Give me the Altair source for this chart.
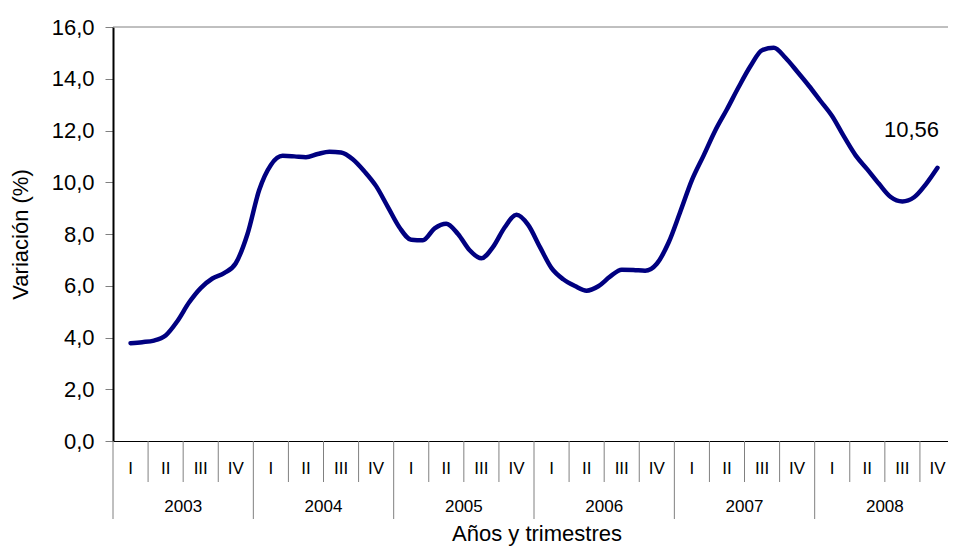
import altair as alt
import pandas as pd

# Monthly series: month index from Jan 2003 = 0 (Feb 2003 .. Nov 2008)
meses = list(range(1, 71))
variacion = [3.78, 3.82, 3.88, 4.08, 4.63, 5.35, 5.91, 6.28, 6.49, 6.87,
             8.0, 9.7, 10.67, 11.02, 11.0, 10.97, 11.09, 11.18, 11.15, 10.89,
             10.42, 9.85, 9.05, 8.25, 7.78, 7.76, 8.22, 8.40, 8.0, 7.37,
             7.06, 7.5, 8.26, 8.74, 8.35, 7.5, 6.68, 6.25, 5.99, 5.81,
             5.98, 6.35, 6.62, 6.61, 6.58, 6.85, 7.66, 8.85, 10.08, 11.03,
             12.0, 12.82, 13.68, 14.48, 15.1, 15.2, 14.81, 14.28, 13.73, 13.14,
             12.55, 11.77, 11.04, 10.5, 9.94, 9.43, 9.26, 9.42, 9.92, 10.56]
trimestres = ["I", "II", "III", "IV"]
anios = ["2003", "2004", "2005", "2006", "2007", "2008"]
etiqueta_final = "10,56"
y_ticks = [0, 2, 4, 6, 8, 10, 12, 14, 16]
titulo_x = "Años y trimestres"
titulo_y = "Variación (%)"

FONT = "Liberation Sans"
W, H = 835, 414

df = pd.DataFrame({"t": [m + 0.5 for m in meses], "v": variacion})
df_last = pd.DataFrame({"t": [meses[-1] + 0.5], "v": [variacion[-1]], "lab": [etiqueta_final]})
q_df = pd.DataFrame({"t": [i * 3 + 1.5 for i in range(len(anios) * 4)],
                     "lab": trimestres * len(anios)})
a_df = pd.DataFrame({"t": [i * 12 + 6 for i in range(len(anios))], "lab": anios})
qb_df = pd.DataFrame({"t": [i * 3 for i in range(len(anios) * 4) if i % 4 != 0]})
yb_df = pd.DataFrame({"t": [i * 12 for i in range(len(anios))]})
one = pd.DataFrame({"lab": [titulo_x]})

xs = alt.Scale(domain=[0, 71.4], nice=False, zero=False)
ys = alt.Scale(domain=[0, 16], nice=False)
xax = alt.Axis(title=None, labels=False, ticks=False, grid=False,
               domainColor="black", domainWidth=1)
yax = alt.Axis(values=y_ticks,
               labelExpr="replace(format(datum.value, '.1f'), '.', ',')",
               tickSize=8, tickColor="#808080", domainColor="black", domainWidth=2,
               labelFont=FONT, labelFontSize=22, labelColor="black", labelPadding=11,
               grid=False, title=titulo_y, titleFont=FONT, titleFontSize=22,
               titleFontWeight="normal", titleColor="black",
               titleX=-93, titleY=207, titleBaseline="middle", titleAngle=-90)

X = alt.X("t:Q", scale=xs, axis=xax)

line = alt.Chart(df).mark_line(color="#000080", strokeWidth=4.5,
                               interpolate="monotone", strokeCap="round").encode(
    x=X, y=alt.Y("v:Q", scale=ys, axis=yax))

label = alt.Chart(df_last).mark_text(font=FONT, fontSize=22, color="black",
                                     dx=-26, dy=-38, align="center",
                                     baseline="middle").encode(
    x=X, y=alt.Y("v:Q", scale=ys, axis=yax), text="lab:N")

top_rule = alt.Chart(one).mark_rule(color="#808080", strokeWidth=1).encode(
    x=alt.value(0), x2=alt.value(W), y=alt.value(0))

q_rules = alt.Chart(qb_df).mark_rule(color="#808080", strokeWidth=1).encode(
    x=X, y=alt.value(H), y2=alt.value(H + 41))
y_rules = alt.Chart(yb_df).mark_rule(color="#808080", strokeWidth=1).encode(
    x=X, y=alt.value(H), y2=alt.value(H + 78))

q_text = alt.Chart(q_df).mark_text(font=FONT, fontSize=17, color="black",
                                   baseline="middle").encode(
    x=X, y=alt.value(H + 28), text="lab:N")
a_text = alt.Chart(a_df).mark_text(font=FONT, fontSize=17, color="black",
                                   baseline="middle").encode(
    x=X, y=alt.value(H + 66), text="lab:N")
x_title = alt.Chart(one).mark_text(font=FONT, fontSize=22, color="black",
                                   baseline="middle").encode(
    x=alt.value(424), y=alt.value(H + 93), text="lab:N")

chart = alt.layer(top_rule, q_rules, y_rules, q_text, a_text, x_title, line, label).properties(
    width=W, height=H,
    autosize=alt.AutoSizeParams(type="none"),
    padding={"left": 105, "top": 19, "right": 0, "bottom": 105},
).configure_view(stroke=None)

chart.save("out.html", embed_options={"renderer": "svg", "actions": False})
